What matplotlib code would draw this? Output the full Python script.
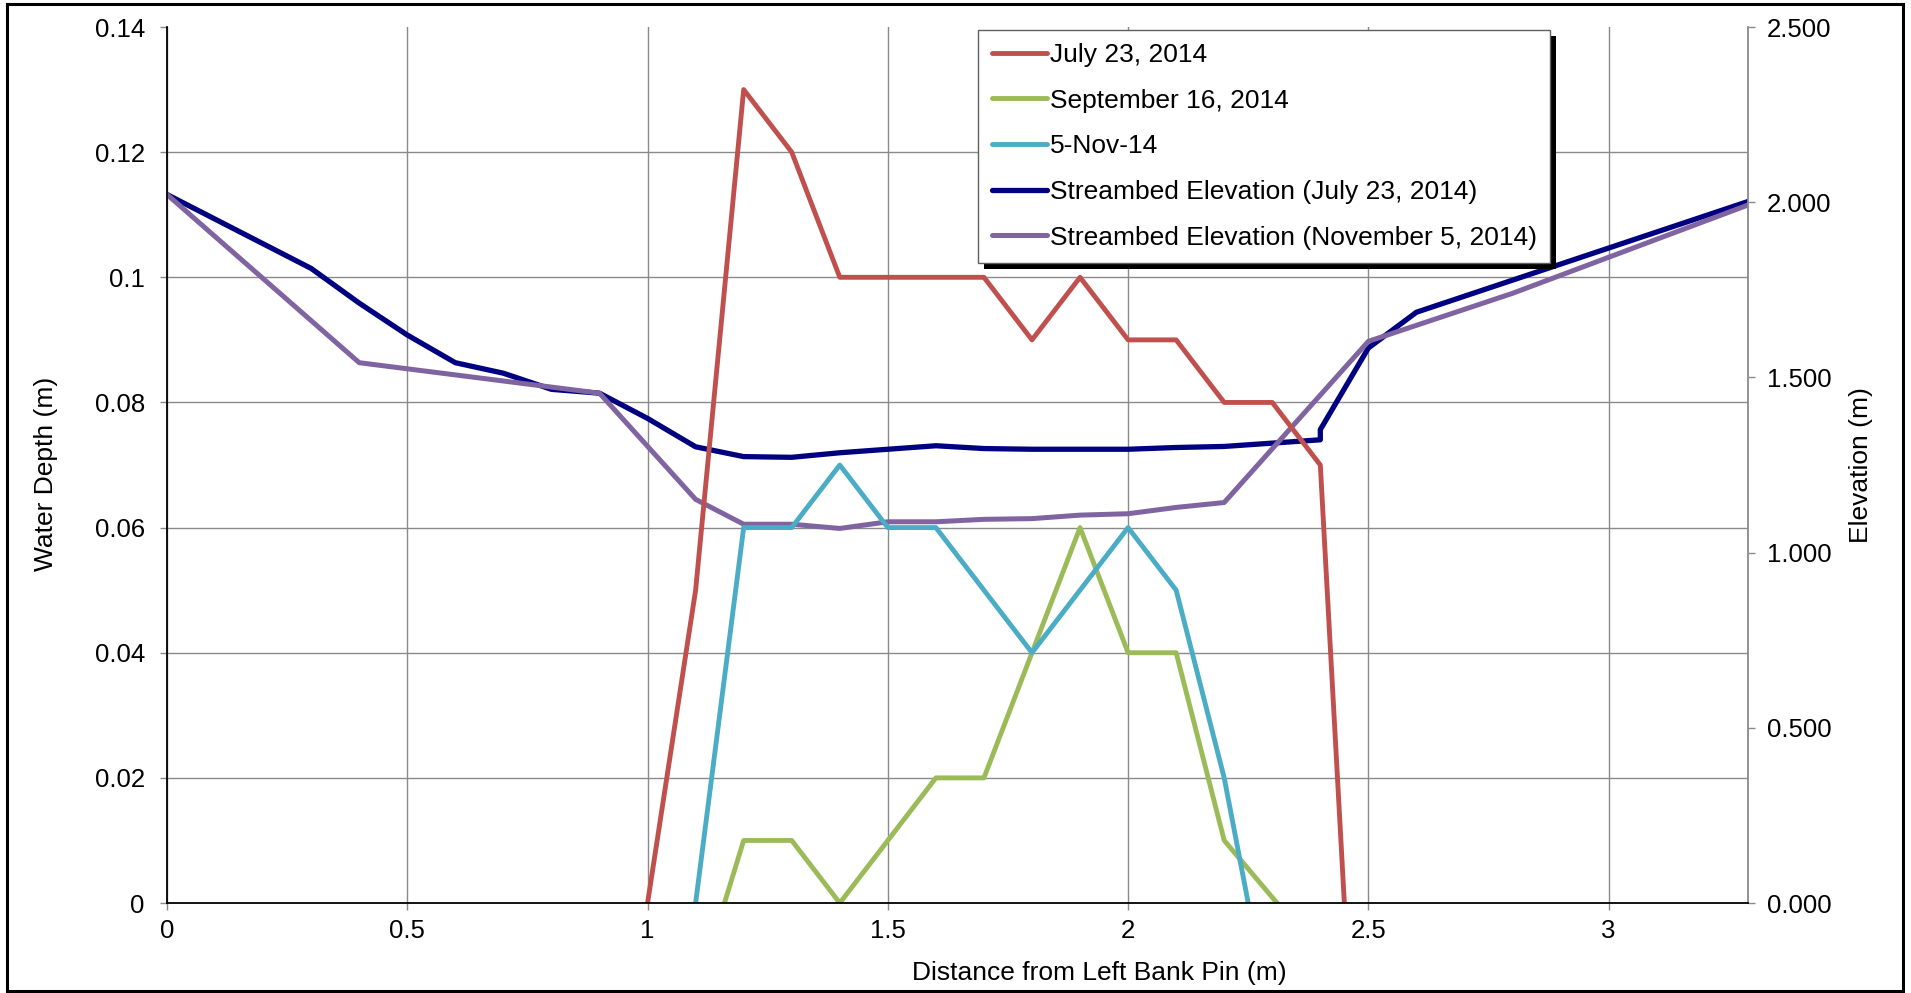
import numpy as np
import matplotlib
matplotlib.use("Agg")
import matplotlib.pyplot as plt
from matplotlib.patches import Rectangle
from matplotlib.ticker import FuncFormatter

plt.rcParams['font.family'] = ['Liberation Sans', 'DejaVu Sans']

# water depth (left axis)
x_july = [1.0, 1.1, 1.2, 1.3, 1.4, 1.5, 1.6, 1.7, 1.8, 1.9, 2.0, 2.1, 2.2, 2.3, 2.4, 2.45]
depth_july = [0, 0.05, 0.13, 0.12, 0.10, 0.10, 0.10, 0.10, 0.09, 0.10, 0.09, 0.09, 0.08, 0.08, 0.07, 0]

x_sep = [1.16, 1.2, 1.3, 1.4, 1.5, 1.6, 1.7, 1.8, 1.9, 2.0, 2.1, 2.2, 2.31]
depth_sep = [0, 0.01, 0.01, 0, 0.01, 0.02, 0.02, 0.04, 0.06, 0.04, 0.04, 0.01, 0]

x_nov = [1.1, 1.2, 1.3, 1.4, 1.5, 1.6, 1.7, 1.8, 1.9, 2.0, 2.1, 2.2, 2.25]
depth_nov = [0, 0.06, 0.06, 0.07, 0.06, 0.06, 0.05, 0.04, 0.05, 0.06, 0.05, 0.02, 0]

# streambed elevation (right axis)
x_bed_july = [0, 0.3, 0.4, 0.5, 0.6, 0.7, 0.8, 0.9, 1.0, 1.1, 1.2, 1.3, 1.4, 1.5, 1.6,
              1.7, 1.8, 1.9, 2.0, 2.1, 2.2, 2.4, 2.4, 2.5, 2.6, 3.29]
elev_july = [2.022, 1.811, 1.712, 1.621, 1.542, 1.512, 1.466, 1.455, 1.383, 1.302, 1.274,
             1.272, 1.285, 1.295, 1.305, 1.297, 1.295, 1.295, 1.295, 1.300, 1.303, 1.322,
             1.351, 1.584, 1.686, 2.002]

x_bed_nov = [0, 0.4, 0.9, 1.1, 1.2, 1.3, 1.4, 1.5, 1.6, 1.7, 1.8, 1.9, 2.0, 2.1, 2.2,
             2.5, 2.8, 3.29]
elev_nov = [2.022, 1.542, 1.455, 1.152, 1.081, 1.081, 1.069, 1.088, 1.088, 1.095, 1.097,
            1.107, 1.111, 1.129, 1.143, 1.603, 1.740, 1.992]

labels = ["July 23, 2014", "September 16, 2014", "5-Nov-14",
          "Streambed Elevation (July 23, 2014)", "Streambed Elevation (November 5, 2014)"]

x_ticks = [0, 0.5, 1, 1.5, 2, 2.5, 3]
depth_ticks = np.array([0, 0.02, 0.04, 0.06, 0.08, 0.10, 0.12, 0.14])
elev_ticks = [0, 0.5, 1.0, 1.5, 2.0, 2.5]
x_max, depth_max, elev_max = 3.29, 0.14, 2.5

grid_c = '#8a8a8a'
tick_c = '#8a8a8a'
fs = 18.5

fig = plt.figure(figsize=(19.11, 9.93), dpi=100)
ax = fig.add_axes([0.0874, 0.0906, 0.8273, 0.8822])
ax2 = ax.twinx()
ax.set_zorder(2)
ax2.set_zorder(1)
ax.patch.set_visible(False)

# grid lives on the back axes so the lines sit above it
ax2.xaxis.set_visible(True)
ax2.set_xticks(x_ticks)
ax2.tick_params(axis='x', length=0, labelbottom=False, labeltop=False)
ax2.grid(axis='x', color=grid_c, lw=1)
ax2.set_yticks(depth_ticks * elev_max / depth_max, minor=True)
ax2.tick_params(axis='y', which='minor', length=0)
ax2.grid(axis='y', which='minor', color=grid_c, lw=1)

l4, = ax2.plot(x_bed_july, elev_july, color='#000080', lw=3.8)
l5, = ax2.plot(x_bed_nov, elev_nov, color='#8064A2', lw=3.6)
l1, = ax.plot(x_july, depth_july, color='#C0504D', lw=3.5)
l2, = ax.plot(x_sep, depth_sep, color='#9BBB59', lw=3.5)
l3, = ax.plot(x_nov, depth_nov, color='#4BACC6', lw=3.5)

ax.set_xlim(0, x_max)
ax.set_ylim(0, depth_max)
ax2.set_ylim(0, elev_max)
ax.set_xticks(x_ticks)
ax.set_yticks(depth_ticks)
ax2.set_yticks(elev_ticks)
ax.xaxis.set_major_formatter(FuncFormatter(lambda v, p: f"{v:g}"))
ax.yaxis.set_major_formatter(FuncFormatter(lambda v, p: f"{v:g}"))
ax2.yaxis.set_major_formatter(FuncFormatter(lambda v, p: f"{v:.3f}"))

for s in ['top', 'right']:
    ax.spines[s].set_visible(False)
ax.spines['left'].set_linewidth(1.3)
ax.spines['bottom'].set_linewidth(1.3)
for s in ['top', 'left', 'bottom']:
    ax2.spines[s].set_visible(False)
ax2.spines['right'].set_color(tick_c)
ax2.spines['right'].set_linewidth(1.3)

ax.tick_params(axis='y', direction='out', length=5, width=1, color=tick_c, pad=11, labelsize=fs)
ax.tick_params(axis='x', direction='out', length=5, width=1, color=tick_c, pad=6.5, labelsize=fs)
ax2.tick_params(axis='y', which='major', direction='out', length=5, width=1, color=tick_c,
                pad=8.5, labelsize=fs)

ax.set_xlabel("Distance from Left Bank Pin (m)", fontsize=19)
ax.set_ylabel("Water Depth (m)", fontsize=19)
ax2.set_ylabel("Elevation (m)", fontsize=19)
ax.xaxis.label.set_va('center')
ax.xaxis.set_label_coords(0.59, -0.08)
ax.yaxis.label.set_va('center')
ax.yaxis.set_label_coords(-0.0765, 0.49)
ax2.yaxis.label.set_va('center')
ax2.yaxis.set_label_coords(1.0715, 0.5)

leg = ax.legend([l1, l2, l3, l4, l5], labels, loc='upper left',
                bbox_to_anchor=(0.512, 0.970), bbox_transform=fig.transFigure,
                fontsize=19, frameon=True, fancybox=False, borderaxespad=0,
                handlelength=2.1, handletextpad=0.12, labelspacing=0.82,
                borderpad=0.5)
leg.get_frame().set_edgecolor('#606060')
leg.get_frame().set_linewidth(1)
leg.get_frame().set_alpha(1)
for h in leg.get_lines():
    h.set_solid_capstyle('round')

# black drop shadow under the legend
fig.canvas.draw()
bb = leg.get_window_extent()
shadow = Rectangle((bb.x0 + 6, bb.y0 - 6), bb.width, bb.height, transform=None,
                   facecolor='black', edgecolor='none', zorder=4.5, clip_on=False)
ax.add_artist(shadow)

# outer chart border
fig.add_artist(Rectangle((0.0037, 0.002), 0.9921, 0.994, transform=fig.transFigure,
                         fill=False, lw=2.2, ec='black'))

fig.savefig("out.png", dpi=100)
